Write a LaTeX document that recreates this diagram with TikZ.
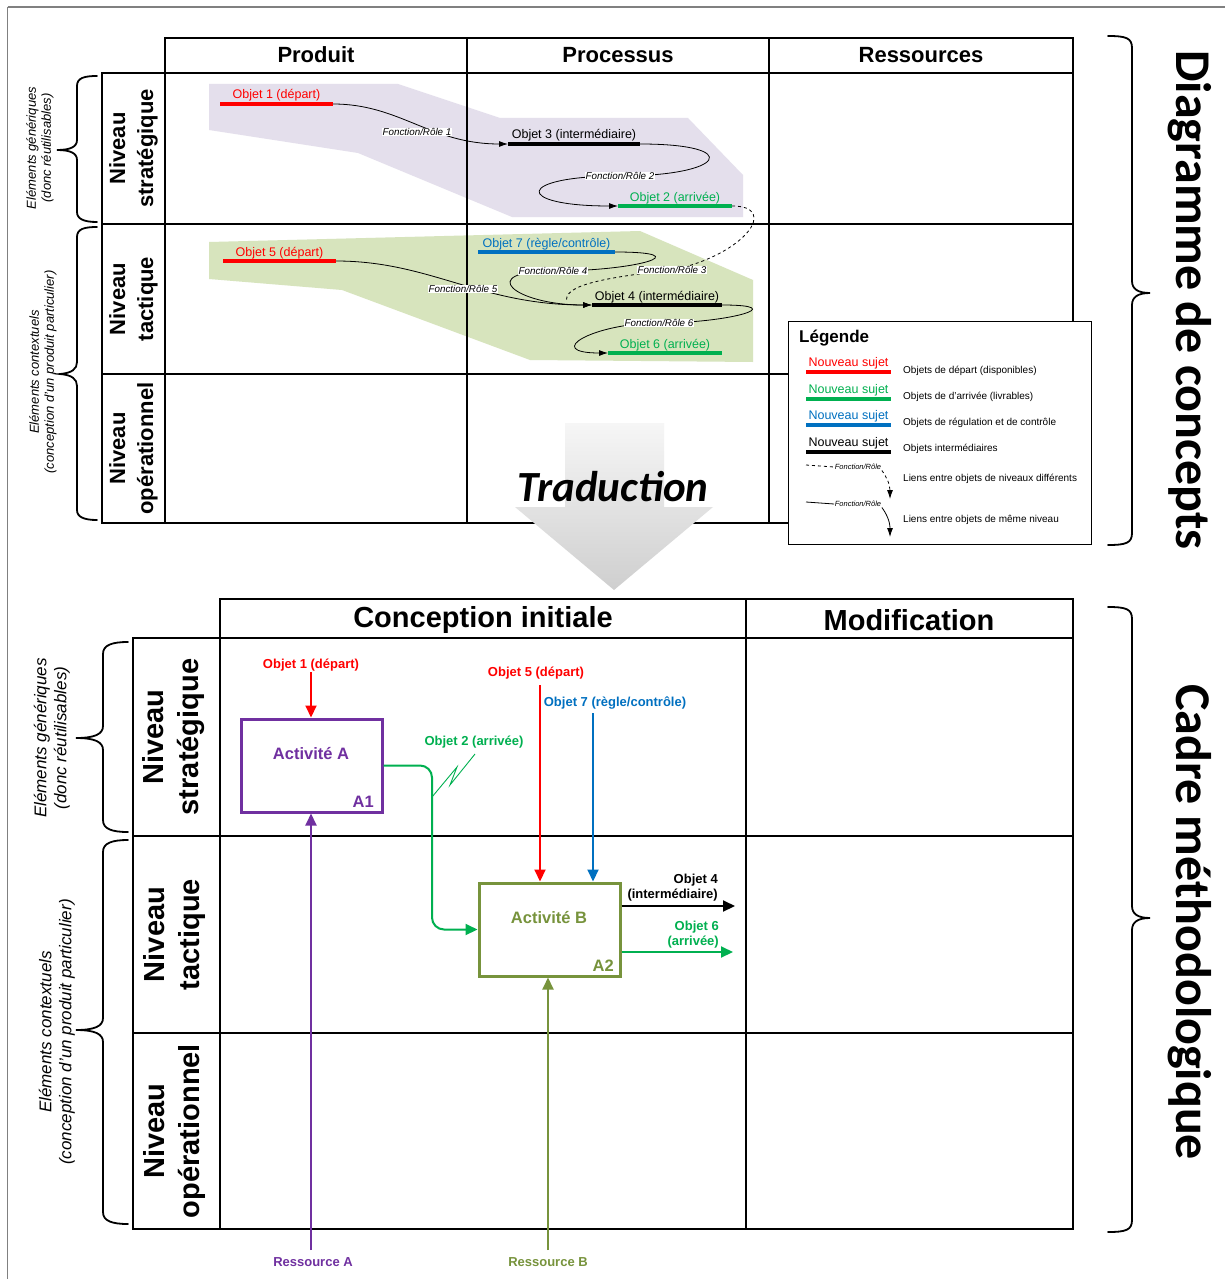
\documentclass[tikz,border=0pt]{standalone}
\usepackage{fontspec}
\setmainfont{Liberation Sans}
\newfontfamily\calfont{Carlito}
\usetikzlibrary{arrows.meta,calc}
\definecolor{cred}{HTML}{FF0000}
\definecolor{cgreen}{HTML}{00B050}
\definecolor{cblue}{HTML}{0070C0}
\definecolor{cpurple}{HTML}{7030A0}
\definecolor{colive}{HTML}{77933C}
\definecolor{shpurple}{HTML}{E4DFEC}
\definecolor{shgreen}{HTML}{D7E4BD}
\begin{document}
\begin{tikzpicture}[x=1pt,y=-1pt,
  grid/.style={line width=1.3pt, black},
  objline/.style={line width=3.5pt},
  objlab/.style={font=\fontsize{12.5}{14}\selectfont, inner sep=0pt, anchor=base},
  flabel/.style={font=\fontsize{9.8}{11}\selectfont\itshape, fill=white, inner sep=0.6pt},
  link/.style={line width=0.8pt},
  tipa/.style={-{Latex[length=9pt,width=6pt]}},
  hdr/.style={font=\fontsize{22}{26}\selectfont\bfseries},
  rowlab/.style={font=\fontsize{22}{28}\selectfont\bfseries, rotate=90, align=center},
  bighdr/.style={font=\fontsize{29}{34}\selectfont\bfseries},
  bigrow/.style={font=\fontsize{29}{35}\selectfont\bfseries, rotate=90, align=center},
  sidelab/.style={font=\fontsize{13}{15}\selectfont\itshape, rotate=90, align=center},
  bigside/.style={font=\fontsize{17}{20}\selectfont\itshape, rotate=90, align=center},
  bracestroke/.style={line width=1.8pt, line cap=round},
  titlelab/.style={font=\calfont\fontsize{50}{56}\selectfont\bfseries, rotate=-90},
  legtxt/.style={font=\fontsize{10}{12}\selectfont, anchor=west, inner sep=0pt},
  leglab/.style={font=\fontsize{12.5}{14}\selectfont, anchor=base, inner sep=0pt},
  legf/.style={font=\fontsize{7.5}{9}\selectfont\itshape, inner sep=0.5pt, fill=white},
  blab/.style={font=\fontsize{13}{15}\selectfont\bfseries, inner sep=1pt},
  barrow/.style={line width=2pt, -{Triangle[length=12pt,width=11pt]}},
  actbox/.style={draw, line width=3pt, minimum width=141pt, minimum height=93pt},
  acttxt/.style={font=\fontsize{16.5}{19}\selectfont\bfseries},
]
\useasboundingbox (0,0) rectangle (1225,1279);
\fill[white] (0,0) rectangle (1225,1279);
% outer frame
\draw[gray, line width=1.2pt] (7.5,7) -- (1225,7);
\draw[gray, line width=1.2pt] (7.5,7) -- (7.5,1279);

% ---------- top: shaded zones ----------
\fill[shpurple] (209,84) -- (398,84) -- (500,118) -- (688,118) -- (743,175) -- (743,217) -- (512,217) -- (358,153) -- (209,130) -- cycle;
\fill[shgreen] (209,242) -- (640,231) -- (753,280) -- (753,362) -- (530,360) -- (342,290) -- (209,279) -- cycle;

% ---------- top table ----------
\draw[grid] (165,38) rectangle (1073,73);
\draw[grid] (102,73) rectangle (1073,523);
\draw[grid] (165,73) -- (165,523);
\draw[grid] (467,38) -- (467,523);
\draw[grid] (769,38) -- (769,523);
\draw[grid] (102,224) -- (1073,224);
\draw[grid] (102,374) -- (1073,374);
\node[hdr] (hprod) at (316,55) {Produit};
\node[hdr] (hproc) at (618,55) {Processus};
\node[hdr] (hres) at (921,55) {Ressources};
\node[rowlab] (rs1) at (133.5,148.5) {Niveau\\stratégique};
\node[rowlab] (rt1) at (133.5,299) {Niveau\\tactique};
\node[rowlab] (ro1) at (133.5,448.5) {Niveau\\opérationnel};

% braces top-left
\draw[bracestroke] (97,76) .. controls (84,76) and (77,78) .. (77,86) -- (77,140) .. controls (77,147) and (70,150) .. (57,150) .. controls (70,150) and (77,153) .. (77,160) -- (77,212) .. controls (77,219) and (84,222) .. (97,222);
\draw[bracestroke] (97,227) .. controls (84,227) and (77,229) .. (77,237) -- (77,362) .. controls (77,369) and (72,373) .. (60,374) .. controls (72,375) and (77,379) .. (77,386) -- (77,510) .. controls (77,517) and (84,520) .. (97,520);
\node[sidelab] (gen1) at (40,148) {Eléments génériques\\(donc réutilisables)};
\node[sidelab] (ctx1) at (43,372) {Eléments contextuels\\(conception d’un produit particulier)};

% objects
\coordinate (o1w) at (220,104); \coordinate (o1e) at (333,104);
\coordinate (o3w) at (508,144); \coordinate (o3e) at (640,144);
\coordinate (o2w) at (618,206); \coordinate (o2e) at (732,206);
\coordinate (o7w) at (478,252); \coordinate (o7e) at (615,252);
\coordinate (o5w) at (223,261); \coordinate (o5e) at (336,261);
\coordinate (o4w) at (592,305); \coordinate (o4e) at (722,305);
\coordinate (o6w) at (608,353); \coordinate (o6e) at (722,353);
\coordinate (fr2c) at (620,176);
\coordinate (fr3c) at (672,270);
\coordinate (fr4c) at (553,271);
\coordinate (fr6c) at (659,323);

% links
\draw[link,tipa] (o1e) .. controls (400,104) and (430,144) .. (o3w);
\draw[link,tipa] (o3e) to[out=0,in=0,distance=105pt] (fr2c) to[out=180,in=180,distance=105pt] (o2w);
\draw[link,dashed] (o2e) .. controls (780,206) and (745,255) .. (fr3c) .. controls (600,278) and (562,286) .. (567,302);
\draw[link,tipa] (o7e) to[out=0,in=0,distance=85pt] (fr4c) to[out=180,in=180,distance=78pt] (o4w);
\draw[link,tipa] (o5e) .. controls (430,261) and (480,305) .. (o4w);
\draw[link,tipa] (o4e) to[out=0,in=0,distance=70pt] (fr6c) to[out=180,in=180,distance=66pt] (o6w);

\draw[objline,cred] (o1w) -- (o1e);
\draw[objline,black] (o3w) -- (o3e);
\draw[objline,cgreen] (o2w) -- (o2e);
\draw[objline,cblue] (o7w) -- (o7e);
\draw[objline,cred] (o5w) -- (o5e);
\draw[objline,black] (o4w) -- (o4e);
\draw[objline,cgreen] (o6w) -- (o6e);

\node[objlab, text=cred] (l1) at (276.5,99) {Objet 1 (départ)};
\node[objlab] (l3) at (574,139) {Objet 3 (intermédiaire)};
\node[objlab, text=cgreen] (l2) at (675,201) {Objet 2 (arrivée)};
\node[objlab, text=cblue] (l7) at (546.5,247) {Objet 7 (règle/contrôle)};
\node[objlab, text=cred] (l5) at (279.5,256) {Objet 5 (départ)};
\node[objlab] (l4) at (657,300) {Objet 4 (intermédiaire)};
\node[objlab, text=cgreen] (l6) at (665,348) {Objet 6 (arrivée)};

\node[flabel] (fr1) at (417,132) {Fonction/Rôle 1};
\node[flabel] (fr2) at (fr2c) {Fonction/Rôle 2};
\node[flabel] (fr3) at (fr3c) {Fonction/Rôle 3};
\node[flabel] (fr4) at (fr4c) {Fonction/Rôle 4};
\node[flabel] (fr5) at (463,289) {Fonction/Rôle 5};
\node[flabel] (fr6) at (fr6c) {Fonction/Rôle 6};

% legend
\node[draw, line width=1pt, fill=white, minimum width=303pt, minimum height=223pt, anchor=north west, inner sep=0pt] (legend) at (788,321) {};
\node[font=\fontsize{17}{20}\selectfont\bfseries, anchor=base west, inner sep=0pt] (legt) at (799,342) {Légende};
\draw[objline,cred] (806,372) -- (891,372);
\draw[objline,cgreen] (806,399) -- (891,399);
\draw[objline,cblue] (806,425) -- (891,425);
\draw[objline,black] (806,452) -- (891,452);
\node[leglab, text=cred] (lg1) at (848.5,366) {Nouveau sujet};
\node[leglab, text=cgreen] (lg2) at (848.5,393) {Nouveau sujet};
\node[leglab, text=cblue] (lg3) at (848.5,419) {Nouveau sujet};
\node[leglab] (lg4) at (848.5,446) {Nouveau sujet};
\node[legtxt] (lt1) at (903,371) {Objets de départ (disponibles)};
\node[legtxt] (lt2) at (903,397) {Objets de d’arrivée (livrables)};
\node[legtxt] (lt3) at (903,423) {Objets de régulation et de contrôle};
\node[legtxt] (lt4) at (903,449) {Objets intermédiaires};
\node[legtxt] (lt5) at (903,479) {Liens entre objets de niveaux différents};
\node[legtxt] (lt6) at (903,520) {Liens entre objets de même niveau};
\node[legf] (lf1) at (858,467) {Fonction/Rôle};
\node[legf] (lf2) at (858,504) {Fonction/Rôle};
\draw[link,dashed] (806,465) -- (lf1.west);
\draw[link,dashed,tipa] (lf1.south east) .. controls (886,476) and (890,484) .. (890,499);
\draw[link] (806,502) -- (lf2.west);
\draw[link,tipa] (lf2.south east) .. controls (886,513) and (890,521) .. (890,537);

% right brace + title (top)
\draw[bracestroke] (1108,36) .. controls (1126,36) and (1132,38) .. (1132,48) -- (1132,281) .. controls (1132,289) and (1138,293) .. (1150,293) .. controls (1138,293) and (1132,297) .. (1132,305) -- (1132,533) .. controls (1132,543) and (1126,545) .. (1108,545);
\node[titlelab] (tdc) at (1190,300) {Diagramme de concepts};

% Traduction arrow
\shade[top color=gray!7, bottom color=gray!38] (565,423) -- (664,423) -- (664,507) -- (713,507) -- (614,590) -- (515,507) -- (565,507) -- cycle;
\node[font=\calfont\fontsize{43}{50}\selectfont\bfseries\itshape] (trad) at (613,487) {Traduction};

% ---------- bottom table ----------
\draw[grid] (220,599) rectangle (1073,638);
\draw[grid] (133,638) rectangle (1073,1229);
\draw[grid] (220,638) -- (220,1229);
\draw[grid] (746,599) -- (746,1229);
\draw[grid] (133,836) -- (1073,836);
\draw[grid] (133,1033) -- (1073,1033);
\node[bighdr] (hci) at (483,620) {Conception initiale};
\node[bighdr] (hmod) at (909,620) {Modification};
\node[bigrow] (rs2) at (174,737) {Niveau\\stratégique};
\node[bigrow] (rt2) at (174,934.5) {Niveau\\tactique};
\node[bigrow] (ro2) at (174,1131) {Niveau\\opérationnel};

\draw[bracestroke] (128,642) .. controls (112,642) and (103,645) .. (103,654) -- (103,726) .. controls (103,734) and (95,738) .. (76,738) .. controls (95,738) and (103,742) .. (103,750) -- (103,820) .. controls (103,829) and (112,832) .. (128,832);
\draw[bracestroke] (128,840) .. controls (112,840) and (103,843) .. (103,852) -- (103,1018) .. controls (103,1026) and (95,1030) .. (76,1030) .. controls (95,1030) and (103,1034) .. (103,1042) -- (103,1212) .. controls (103,1221) and (112,1224) .. (128,1224);
\node[bigside] (gen2) at (52,738) {Eléments génériques\\(donc réutilisables)};
\node[bigside] (ctx2) at (57,1032) {Eléments contextuels\\(conception d’un produit particulier)};

\draw[bracestroke] (1108,607) .. controls (1126,607) and (1132,609) .. (1132,619) -- (1132,906) .. controls (1132,914) and (1138,918) .. (1150,918) .. controls (1138,918) and (1132,922) .. (1132,930) -- (1132,1220) .. controls (1132,1230) and (1126,1232) .. (1108,1232);
\node[titlelab] (tcm) at (1190,922) {Cadre méthodologique};

% activities
\node[actbox, draw=cpurple] (actA) at (311.5,765.5) {};
\node[acttxt, text=cpurple] (actAt) at (311,754) {Activité A};
\node[acttxt, text=cpurple, anchor=base east, inner sep=0pt] (actAn) at (374,807) {A1};
\node[actbox, draw=colive] (actB) at (549.5,929.5) {};
\node[acttxt, text=colive] (actBt) at (549,918) {Activité B};
\node[acttxt, text=colive, anchor=base east, inner sep=0pt] (actBn) at (614,971) {A2};

% bottom labels
\node[blab, text=cred] (b1) at (311,665) {Objet 1 (départ)};
\node[blab, text=cred] (b5) at (536,673) {Objet 5 (départ)};
\node[blab, text=cblue] (b7) at (615,703) {Objet 7 (règle/contrôle)};
\node[blab, text=cgreen] (b2) at (474,742) {Objet 2 (arrivée)};
\node[blab, align=right, anchor=base east, inner sep=0pt] (b4) at (718,898) {Objet 4\\(intermédiaire)};
\node[blab, text=cgreen, align=right, anchor=base east, inner sep=0pt] (b6) at (719,945) {Objet 6\\(arrivée)};
\node[blab, text=cpurple] (ra) at (313,1262) {Ressource A};
\node[blab, text=colive] (rb) at (548,1262) {Ressource B};

% bottom connectors
\draw[barrow, cred] (b1.south) -- (b1.south |- actA.north);
\coordinate (b5s) at (540,685);
\draw[barrow, cred] (b5s) -- (b5s |- actB.north);
\coordinate (b7s) at (593,713);
\draw[barrow, cblue] (b7s) -- (b7s |- actB.north);
\coordinate (o2bend) at (432,850);
\draw[barrow, cgreen, rounded corners=12pt] (actA.east) -| (o2bend) |- (actB.west);
\draw[cgreen, line width=0.9pt] (475,754) -- (450,785) -- (457,767) -- (432,797);
\coordinate (o4out) at (735,906);
\draw[barrow, black] (actB.east |- o4out) -- (o4out);
\coordinate (o6out) at (733,952);
\draw[barrow, cgreen] (actB.east |- o6out) -- (o6out);
\coordinate (ras) at (311,1250);
\draw[barrow, cpurple] (ras) -- (ras |- actA.south);
\coordinate (rbs) at (548,1250);
\draw[barrow, colive] (rbs) -- (rbs |- actB.south);
\end{tikzpicture}
\end{document}
